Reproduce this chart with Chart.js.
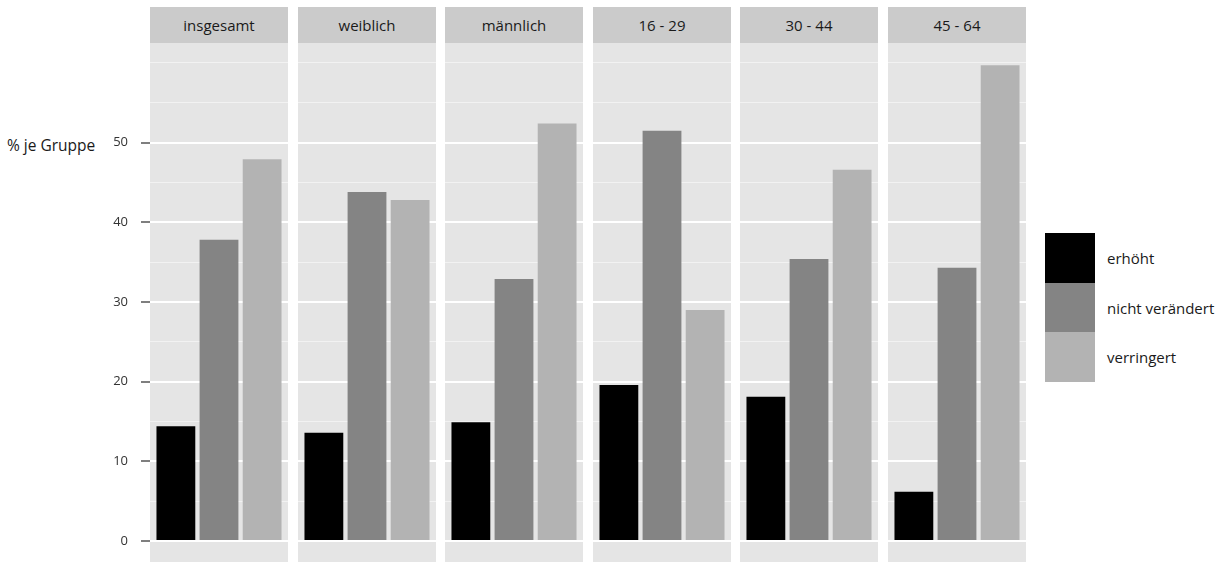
<!DOCTYPE html>
<html>
<head>
<meta charset="utf-8">
<script src="https://cdn.jsdelivr.net/npm/chart.js@4.4.1/dist/chart.umd.min.js"></script>
<style>
  body { margin: 0; background: #ffffff; }
  #wrap { position: relative; width: 1221px; height: 562px; overflow: hidden; font-family: "Open Sans", sans-serif; color: #1a1a1a; }
  .strip { position: absolute; top: 7px; height: 36px; background: #cbcbcb; font-size: 15px; line-height: 36px; text-align: center; }
  .panel { position: absolute; top: 43px; }
  #ytitle { position: absolute; left: 7px; top: 134px; font-size: 15.5px; line-height: 22px; color: #1a1a1a; }
  .key { position: absolute; left: 1045px; width: 50px; height: 50px; }
  .keylabel { position: absolute; left: 1107px; font-size: 15px; line-height: 22px; }
</style>
</head>
<body>
<div id="wrap">
  <div id="ytitle">% je Gruppe</div>
</div>
<script>
// facets and series
const panels = ['insgesamt', 'weiblich', 'männlich', '16 - 29', '30 - 44', '45 - 64'];
const seriesNames = ['erhöht', 'nicht verändert', 'verringert'];
const erhoeht = [14.4, 13.6, 14.9, 19.6, 18.1, 6.2];
const nichtVeraendert = [37.8, 43.8, 32.9, 51.5, 35.4, 34.3];
const verringert = [47.9, 42.8, 52.4, 29.0, 46.6, 59.7];
const yTickLabels = [0, 10, 20, 30, 40, 50];
const gridValues = [0, 5, 10, 15, 20, 25, 30, 35, 40, 45, 50, 55, 60];

const seriesValues = [erhoeht, nichtVeraendert, verringert];
const seriesColors = ['#000000', '#848484', '#b3b3b3'];

const wrap = document.getElementById('wrap');
const panelLeft = 150, panelWidth = 138, panelStep = 147.6, panelHeight = 522, axisWidth = 150;

// grey panel background behind the grid
const panelBackground = {
    id: 'panelBackground',
    beforeDraw(chart) {
        const a = chart.chartArea;
        chart.ctx.save();
        chart.ctx.fillStyle = '#e5e5e5';
        chart.ctx.fillRect(a.left, a.top, a.right - a.left, a.bottom - a.top);
        chart.ctx.restore();
    }
};

panels.forEach((name, p) => {
    const left = Math.round(panelLeft + p * panelStep);
    const first = p === 0;

    const strip = document.createElement('div');
    strip.className = 'strip';
    strip.style.left = left + 'px';
    strip.style.width = panelWidth + 'px';
    strip.textContent = name;
    wrap.appendChild(strip);

    const canvas = document.createElement('canvas');
    canvas.className = 'panel';
    canvas.width = first ? panelWidth + axisWidth : panelWidth;
    canvas.height = panelHeight;
    canvas.style.left = (first ? left - axisWidth : left) + 'px';
    wrap.appendChild(canvas);

    new Chart(canvas, {
        type: 'bar',
        data: {
            datasets: seriesNames.map((s, i) => ({
                label: s,
                data: [{ x: i + 1, y: seriesValues[i][p] }],
                backgroundColor: seriesColors[i],
                grouped: false,
                barPercentage: 0.9,
                categoryPercentage: 1
            }))
        },
        options: {
            responsive: false,
            animation: false,
            layout: { padding: 0 },
            plugins: {
                legend: { display: false },
                tooltip: { enabled: false }
            },
            scales: {
                x: {
                    type: 'linear', min: 0.4, max: 3.6, offset: false, display: false,
                    afterBuildTicks: scale => { scale.ticks = [1, 2, 3].map(v => ({ value: v })); }
                },
                y: {
                    min: -3,
                    max: 62.5,
                    afterBuildTicks: scale => { scale.ticks = gridValues.map(v => ({ value: v })); },
                    afterFit: scale => {
                        scale.width = first ? axisWidth : 0;
                        scale.paddingTop = 0;
                        scale.paddingBottom = 0;
                    },
                    border: { display: false },
                    grid: {
                        color: ctx => yTickLabels.includes(ctx.tick.value) ? '#ffffff' : '#f2f2f2',
                        lineWidth: ctx => yTickLabels.includes(ctx.tick.value) ? 2 : 1,
                        drawTicks: first,
                        tickLength: 9,
                        tickWidth: 2,
                        tickColor: ctx => yTickLabels.includes(ctx.tick.value) ? '#7f7f7f' : 'rgba(0,0,0,0)'
                    },
                    ticks: {
                        display: first,
                        padding: 13,
                        color: '#333333',
                        font: { family: '"Open Sans", sans-serif', size: 13 },
                        callback: v => yTickLabels.includes(v) ? String(v) : ''
                    }
                }
            }
        },
        plugins: [panelBackground]
    });
});

// legend
seriesNames.forEach((s, i) => {
    const top = 233 + i * 49.5;
    const key = document.createElement('div');
    key.className = 'key';
    key.style.top = top + 'px';
    key.style.background = seriesColors[i];
    wrap.appendChild(key);
    const label = document.createElement('div');
    label.className = 'keylabel';
    label.style.top = (top + 14) + 'px';
    label.textContent = s;
    wrap.appendChild(label);
});
</script>
</body>
</html>
